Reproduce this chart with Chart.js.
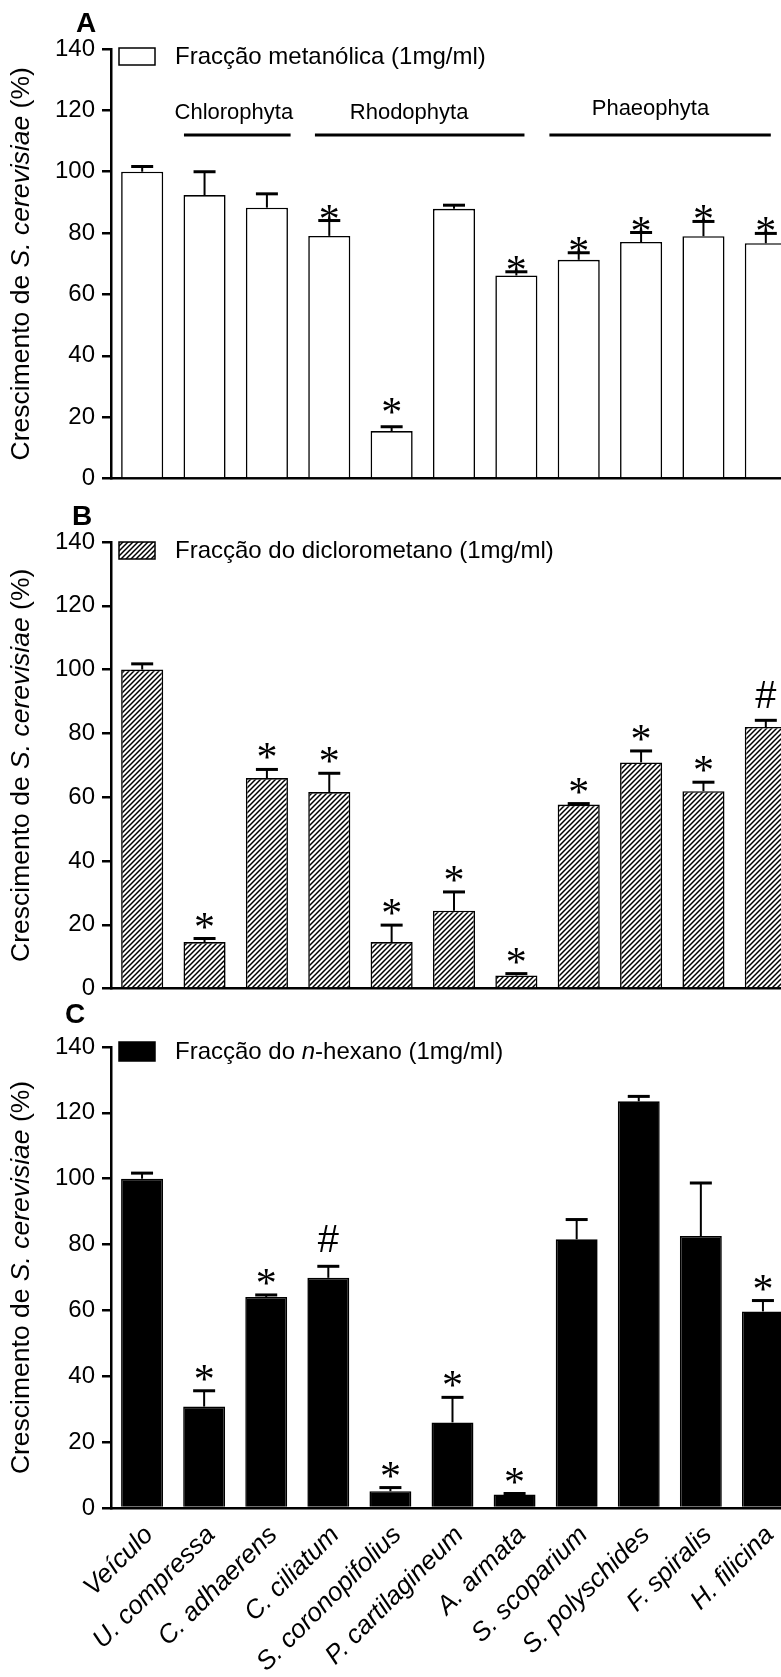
<!DOCTYPE html>
<html>
<head>
<meta charset="utf-8">
<script src="https://cdn.jsdelivr.net/npm/chart.js@4.4.1/dist/chart.umd.min.js"></script>
<style>
html,body{margin:0;padding:0;background:#fff;overflow:hidden;width:781px;height:1677px;}
#wrap{position:relative;width:797px;height:1677px;}
canvas{position:absolute;left:0;}
</style>
</head>
<body>
<div id="wrap">
<canvas id="ca" width="797" height="500" style="top:0px"></canvas>
<canvas id="cb" width="797" height="510" style="top:500px"></canvas>
<canvas id="cc" width="797" height="677" style="top:1000px"></canvas>
</div>
<script>
// ---------- DATA ----------
const categories = ['Veículo','U. compressa','C. adhaerens','C. ciliatum','S. coronopifolius','P. cartilagineum','A. armata','S. scoparium','S. polyschides','F. spiralis','H. filicina'];
const yTickValues = [0,20,40,60,80,100,120,140];

const metanolMean = [100, 92.4, 88.3, 79.1, 15.5, 87.9, 66.2, 71.3, 77.1, 79.0, 76.7];
const metanolErr  = [1.7, 7.6, 4.5, 5.0, 1.4, 1.2, 1.2, 2.3, 3.1, 4.8, 3.2];
const metanolSig  = ['', '', '', '*', '*', '', '*', '*', '*', '*', '*'];

const dcmMean = [100, 14.6, 66.0, 61.6, 14.6, 24.4, 4.1, 57.7, 70.9, 61.9, 82.0];
const dcmErr  = [1.8, 1.1, 2.7, 5.9, 5.3, 5.9, 0.6, 0.3, 3.6, 2.8, 2.1];
const dcmSig  = ['', '*', '*', '*', '*', '*', '*', '*', '*', '*', '#'];

const hexMean = [100, 30.8, 64.1, 69.9, 5.1, 26.0, 4.1, 81.6, 123.5, 82.6, 59.7];
const hexErr  = [1.7, 4.8, 0.6, 3.5, 1.1, 7.6, 0.3, 6.0, 1.5, 16.1, 3.3];
const hexSig  = ['', '*', '*', '#', '*', '*', '*', '', '', '', '*'];

const groupNames = ['Chlorophyta', 'Rhodophyta', 'Phaeophyta'];

// ---------- LAYOUT / STYLE ----------
const FONT = "'Liberation Sans', Arial, Helvetica, sans-serif";
const SERIF = "'Liberation Serif', 'Times New Roman', serif";
Chart.defaults.font.family = FONT;
Chart.defaults.color = '#000';

const groupLayout = { from: [0.67, 2.77, 6.53], to: [2.38, 6.13, 10.08], label: [1.47, 4.28, 8.15], labelY: [113, 113, 109], lineY: 135 };

function hatchPattern(ctx) {
  const n = 5;
  const t = document.createElement('canvas');
  t.width = n; t.height = n;
  const g = t.getContext('2d');
  g.fillStyle = '#fff'; g.fillRect(0, 0, n, n);
  g.strokeStyle = '#000'; g.lineWidth = 1.5;
  g.beginPath();
  g.moveTo(0, n); g.lineTo(n, 0);
  g.moveTo(-1, 1); g.lineTo(1, -1);
  g.moveTo(n - 1, n + 1); g.lineTo(n + 1, n - 1);
  g.stroke();
  return ctx.createPattern(t, 'repeat');
}

function drawCentered(c, s, x, cy, font) {
  c.font = font;
  c.textAlign = 'center';
  c.textBaseline = 'alphabetic';
  const m = c.measureText(s);
  c.fillText(s, x, cy + (m.actualBoundingBoxAscent - m.actualBoundingBoxDescent) / 2);
}

function drawParts(c, parts, x, cy, size, align) {
  c.textBaseline = 'middle';
  c.textAlign = 'left';
  let total = 0;
  const widths = parts.map(p => { c.font = (p[1] ? 'italic ' : '') + size + 'px ' + FONT; const w = c.measureText(p[0]).width; total += w; return w; });
  let cx = align === 'center' ? x - total / 2 : x;
  parts.forEach((p, i) => { c.font = (p[1] ? 'italic ' : '') + size + 'px ' + FONT; c.fillText(p[0], cx, cy); cx += widths[i]; });
}

function build(cfg) {
  const canvas = document.getElementById(cfg.id);
  const ctx = canvas.getContext('2d');
  const fill = cfg.fill === 'hatch' ? hatchPattern(ctx) : cfg.fill;

  const extras = {
    id: 'extras_' + cfg.id,
    afterDatasetsDraw(chart) {
      const c = chart.ctx, ys = chart.scales.y, meta = chart.getDatasetMeta(0);
      c.save();
      c.strokeStyle = '#000'; c.fillStyle = '#000';
      meta.data.forEach((bar, i) => {
        const x = bar.x;
        const y0 = ys.getPixelForValue(cfg.mean[i]);
        const y1 = ys.getPixelForValue(cfg.mean[i] + cfg.err[i]);
        c.lineWidth = 2;
        c.beginPath(); c.moveTo(x, y0); c.lineTo(x, y1); c.stroke();
        c.lineWidth = 3;
        c.beginPath(); c.moveTo(x - 11, y1); c.lineTo(x + 11, y1); c.stroke();
        const s = cfg.sig[i];
        if (s) {
          let gap = s === '#' ? cfg.hashGap : cfg.starGap;
          if (cfg.gapOverride && cfg.gapOverride[i] != null) gap = cfg.gapOverride[i];
          drawCentered(c, s, x, y1 - gap, s === '#' ? '38px ' + FONT : '42px ' + SERIF);
        }
      });
      c.restore();
    },
    afterDraw(chart) {
      const c = chart.ctx, area = chart.chartArea;
      c.save();
      c.fillStyle = '#000'; c.strokeStyle = '#000';
      drawCentered(c, cfg.letter, cfg.letterX, cfg.letterY, 'bold 28px ' + FONT);
      const bx = 119, bw = 36, bh = cfg.boxH, by = cfg.boxY;
      c.lineWidth = 1.5;
      c.fillStyle = fill;
      c.fillRect(bx, by, bw, bh);
      c.strokeRect(bx, by, bw, bh);
      c.fillStyle = '#000';
      drawParts(c, cfg.legend, 175, by + bh / 2 + 1, 24, 'left');
      c.save();
      c.translate(22, (area.top + area.bottom) / 2);
      c.rotate(-Math.PI / 2);
      drawParts(c, [['Crescimento de ', false], ['S. cerevisiae', true], [' (%)', false]], 0, 0, 26.5, 'center');
      c.restore();
      if (cfg.groups) {
        const xs = chart.scales.x;
        const x0 = xs.getPixelForTick(0), step = xs.getPixelForTick(1) - x0;
        groupNames.forEach((g, k) => {
          c.lineWidth = 3;
          c.beginPath();
          c.moveTo(x0 + groupLayout.from[k] * step, groupLayout.lineY);
          c.lineTo(x0 + groupLayout.to[k] * step, groupLayout.lineY);
          c.stroke();
          c.font = '22px ' + FONT;
          c.textAlign = 'center'; c.textBaseline = 'middle';
          c.fillText(g, x0 + groupLayout.label[k] * step, groupLayout.labelY[k]);
        });
      }
      c.restore();
    }
  };

  return new Chart(ctx, {
    type: 'bar',
    data: {
      labels: categories,
      datasets: [{
        data: cfg.mean,
        backgroundColor: fill,
        borderColor: '#000',
        borderWidth: 1.6,
        barPercentage: 0.675,
        categoryPercentage: 1.0
      }]
    },
    options: {
      responsive: false,
      animation: false,
      events: [],
      layout: { padding: { top: cfg.plotTop, left: 0, right: 0, bottom: 0 } },
      plugins: { legend: { display: false }, tooltip: { enabled: false } },
      scales: {
        x: {
          type: 'category',
          offset: true,
          grid: { display: false, drawTicks: false },
          border: { display: true, color: '#000', width: 2.5 },
          ticks: {
            display: cfg.showX,
            autoSkip: false,
            maxRotation: 45, minRotation: 45,
            padding: 12,
            labelOffset: 7,
            color: '#000',
            font: { size: 26, style: 'italic' }
          },
          afterFit(s) { s.height = cfg.xH; }
        },
        y: {
          min: yTickValues[0],
          max: yTickValues[yTickValues.length - 1],
          afterBuildTicks(s) { s.ticks = yTickValues.map(v => ({ value: v })); },
          ticks: { color: '#000', font: { size: 24 }, padding: 7 },
          grid: { drawOnChartArea: false, drawTicks: true, tickLength: 9, color: '#000', lineWidth: 2.5 },
          border: { display: true, color: '#000', width: 2.5 },
          afterFit(s) { s.width = 111; }
        }
      }
    },
    plugins: [extras]
  });
}

build({ id: 'ca', mean: metanolMean, err: metanolErr, sig: metanolSig, fill: '#fff',
  plotTop: 49, xH: 15, showX: false, starGap: 8, hashGap: 26, gapOverride: { 4: 21 },
  letter: 'A', letterX: 86, letterY: 22, boxY: 48, boxH: 17, groups: true,
  legend: [['Fracção metanólica (1mg/ml)', false]] });

build({ id: 'cb', mean: dcmMean, err: dcmErr, sig: dcmSig, fill: 'hatch',
  plotTop: 42, xH: 13, showX: false, starGap: 18, hashGap: 26,
  letter: 'B', letterX: 82, letterY: 15, boxY: 42, boxH: 17, groups: false,
  legend: [['Fracção do diclorometano (1mg/ml)', false]] });

build({ id: 'cc', mean: hexMean, err: hexErr, sig: hexSig, fill: '#000',
  plotTop: 47, xH: 169, showX: true, starGap: 18, hashGap: 28,
  letter: 'C', letterX: 75, letterY: 13, boxY: 42, boxH: 19, groups: false,
  legend: [['Fracção do ', false], ['n', true], ['-hexano (1mg/ml)', false]] });
</script>
</body>
</html>
